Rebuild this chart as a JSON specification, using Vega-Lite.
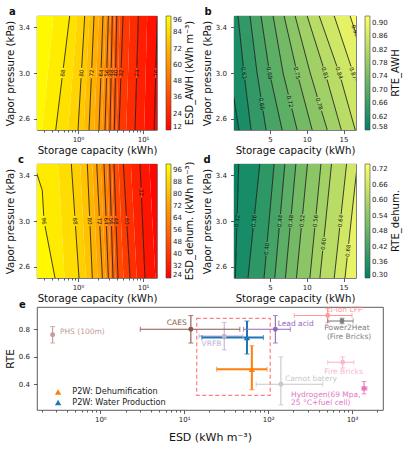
{
"$schema": "https://vega.github.io/schema/vega-lite/v6.json",
"padding": {"left": 4, "top": 6, "right": 0, "bottom": 0},
"config": {
 "font": "DejaVu Sans",
 "view": {"stroke": "#333", "strokeWidth": 0.8},
 "axis": {"domain": false, "grid": false, "labelFontSize": 7, "labelColor": "#222", "titleFontSize": 10.2, "titleFontWeight": "normal", "titleColor": "#111", "tickColor": "#333", "tickWidth": 0.8, "tickSize": 3.5},
 "axisY": {"labelPadding": 4, "titlePadding": 3},
 "axisX": {"labelPadding": 1.5, "titlePadding": 3},
 "legend": {"gradientLength": 114, "gradientThickness": 5, "labelFontSize": 7, "labelColor": "#222", "titleFontSize": 10, "titleFontWeight": "normal", "titleColor": "#111", "labelOffset": 3, "offset": 9, "titleOrient": "right", "titleAnchor": "middle", "titlePadding": 3, "gradientStrokeColor": "#444", "gradientStrokeWidth": 0.6, "labelOverlap": false, "padding": 0},
 "title": {"fontSize": 10, "fontWeight": "bold", "anchor": "start", "frame": "group", "baseline": "alphabetic", "color": "#111"}
},
"datasets": {
 "aBands": [
  {"v":94,"y":2.5,"xl":0.15,"xr":0.28},{"v":94,"y":3.5,"xl":0.15,"xr":0.42},
  {"v":90,"y":2.5,"xl":0.28,"xr":0.454},{"v":90,"y":3.5,"xl":0.42,"xr":0.745},
  {"v":86,"y":2.5,"xl":0.454,"xr":0.70},{"v":86,"y":3.5,"xl":0.745,"xr":0.98},
  {"v":82,"y":2.5,"xl":0.70,"xr":1.0},{"v":82,"y":3.5,"xl":0.98,"xr":1.268},
  {"v":78,"y":2.5,"xl":1.0,"xr":1.22},{"v":78,"y":3.5,"xl":1.268,"xr":1.50},
  {"v":74,"y":2.5,"xl":1.22,"xr":1.477},{"v":74,"y":3.5,"xl":1.50,"xr":1.762},
  {"v":70,"y":2.5,"xl":1.477,"xr":1.78},{"v":70,"y":3.5,"xl":1.762,"xr":2.08},
  {"v":66,"y":2.5,"xl":1.78,"xr":2.10},{"v":66,"y":3.5,"xl":2.08,"xr":2.42},
  {"v":62,"y":2.5,"xl":2.10,"xr":2.34},{"v":62,"y":3.5,"xl":2.42,"xr":2.66},
  {"v":58,"y":2.5,"xl":2.34,"xr":2.60},{"v":58,"y":3.5,"xl":2.66,"xr":2.93},
  {"v":54,"y":2.5,"xl":2.60,"xr":2.84},{"v":54,"y":3.5,"xl":2.93,"xr":3.15},
  {"v":50,"y":2.5,"xl":2.84,"xr":3.10},{"v":50,"y":3.5,"xl":3.15,"xr":3.37},
  {"v":46,"y":2.5,"xl":3.10,"xr":3.35},{"v":46,"y":3.5,"xl":3.37,"xr":3.65},
  {"v":42,"y":2.5,"xl":3.35,"xr":3.62},{"v":42,"y":3.5,"xl":3.65,"xr":3.94},
  {"v":38,"y":2.5,"xl":3.62,"xr":3.92},{"v":38,"y":3.5,"xl":3.94,"xr":4.40},
  {"v":34,"y":2.5,"xl":3.92,"xr":4.27},{"v":34,"y":3.5,"xl":4.40,"xr":4.92},
  {"v":30,"y":2.5,"xl":4.27,"xr":5.5},{"v":30,"y":3.5,"xl":4.92,"xr":6.3},
  {"v":26,"y":2.5,"xl":5.5,"xr":7.53},{"v":26,"y":3.5,"xl":6.3,"xr":8.47},
  {"v":22,"y":2.5,"xl":7.53,"xr":10.4},{"v":22,"y":3.5,"xl":8.47,"xr":11.6},
  {"v":18,"y":2.5,"xl":10.4,"xr":14.8},{"v":18,"y":3.5,"xl":11.6,"xr":16.6},
  {"v":14,"y":2.5,"xl":14.8,"xr":25},{"v":14,"y":3.5,"xl":16.6,"xr":25}
 ],
 "aLines": [
  {"lev":88,"seg":1,"y":2.5,"x":0.454},{"lev":88,"seg":1,"y":2.955,"x":0.569},{"lev":88,"seg":2,"y":3.045,"x":0.595},{"lev":88,"seg":2,"y":3.5,"x":0.745},
  {"lev":80,"seg":1,"y":2.5,"x":1.0},{"lev":80,"seg":1,"y":2.955,"x":1.114},{"lev":80,"seg":2,"y":3.045,"x":1.138},{"lev":80,"seg":2,"y":3.5,"x":1.268},
  {"lev":72,"seg":1,"y":2.5,"x":1.477},{"lev":72,"seg":1,"y":2.955,"x":1.600},{"lev":72,"seg":2,"y":3.045,"x":1.626},{"lev":72,"seg":2,"y":3.5,"x":1.762},
  {"lev":64,"seg":1,"y":2.5,"x":2.10},{"lev":64,"seg":1,"y":2.955,"x":2.240},{"lev":64,"seg":2,"y":3.045,"x":2.269},{"lev":64,"seg":2,"y":3.5,"x":2.42},
  {"lev":56,"seg":1,"y":2.5,"x":2.60},{"lev":56,"seg":1,"y":2.955,"x":2.745},{"lev":56,"seg":2,"y":3.045,"x":2.775},{"lev":56,"seg":2,"y":3.5,"x":2.93},
  {"lev":48,"seg":1,"y":2.5,"x":3.10},{"lev":48,"seg":1,"y":2.955,"x":3.220},{"lev":48,"seg":2,"y":3.045,"x":3.244},{"lev":48,"seg":2,"y":3.5,"x":3.37},
  {"lev":40,"seg":1,"y":2.5,"x":3.62},{"lev":40,"seg":1,"y":2.955,"x":3.762},{"lev":40,"seg":2,"y":3.045,"x":3.791},{"lev":40,"seg":2,"y":3.5,"x":3.94},
  {"lev":32,"seg":1,"y":2.5,"x":4.27},{"lev":32,"seg":1,"y":2.955,"x":4.554},{"lev":32,"seg":2,"y":3.045,"x":4.612},{"lev":32,"seg":2,"y":3.5,"x":4.92},
  {"lev":24,"seg":1,"y":2.5,"x":7.53},{"lev":24,"seg":1,"y":2.955,"x":7.944},{"lev":24,"seg":2,"y":3.045,"x":8.029},{"lev":24,"seg":2,"y":3.5,"x":8.47},
  {"lev":16,"seg":1,"y":2.5,"x":14.8},{"lev":16,"seg":1,"y":2.955,"x":15.59},{"lev":16,"seg":2,"y":3.045,"x":15.75},{"lev":16,"seg":2,"y":3.5,"x":16.6}
 ],
 "aLabels": [
  {"t":"88","x":0.582,"y":3.0},{"t":"80","x":1.126,"y":3.0},{"t":"72","x":1.613,"y":3.0},{"t":"64","x":2.254,"y":3.0},{"t":"56","x":2.76,"y":3.0},
  {"t":"48","x":3.232,"y":3.0},{"t":"40","x":3.777,"y":3.0},{"t":"32","x":4.583,"y":3.0},{"t":"24","x":7.986,"y":3.0},{"t":"16","x":15.67,"y":3.0}
 ],
 "bBands": [
  {"v":0.585,"y":2.5,"xl":-5,"xr":0.78},{"v":0.585,"y":3.0,"xl":-5,"xr":-0.45},{"v":0.585,"y":3.5,"xl":-5,"xr":-1.26},
  {"v":0.615,"y":2.5,"xl":0.78,"xr":2.42},{"v":0.615,"y":3.0,"xl":-0.45,"xr":1.46},{"v":0.615,"y":3.5,"xl":-1.26,"xr":0.65},
  {"v":0.645,"y":2.5,"xl":2.42,"xr":4.47},{"v":0.645,"y":3.0,"xl":1.46,"xr":3.24},{"v":0.645,"y":3.5,"xl":0.65,"xr":2.28},
  {"v":0.675,"y":2.5,"xl":4.47,"xr":6.65},{"v":0.675,"y":3.0,"xl":3.24,"xr":4.94},{"v":0.675,"y":3.5,"xl":2.28,"xr":3.78},
  {"v":0.705,"y":2.5,"xl":6.65,"xr":8.69},{"v":0.705,"y":3.0,"xl":4.94,"xr":6.78},{"v":0.705,"y":3.5,"xl":3.78,"xr":5.42},
  {"v":0.735,"y":2.5,"xl":8.69,"xr":10.74},{"v":0.735,"y":3.0,"xl":6.78,"xr":8.69},{"v":0.735,"y":3.5,"xl":5.42,"xr":6.92},
  {"v":0.765,"y":2.5,"xl":10.74,"xr":12.79},{"v":0.765,"y":3.0,"xl":8.69,"xr":10.47},{"v":0.765,"y":3.5,"xl":6.92,"xr":8.42},
  {"v":0.795,"y":2.5,"xl":12.79,"xr":14.7},{"v":0.795,"y":3.0,"xl":10.47,"xr":12.51},{"v":0.795,"y":3.5,"xl":8.42,"xr":10.06},
  {"v":0.825,"y":2.5,"xl":14.7,"xr":16.6},{"v":0.825,"y":3.0,"xl":12.51,"xr":14.42},{"v":0.825,"y":3.5,"xl":10.06,"xr":11.7},
  {"v":0.855,"y":2.5,"xl":16.6,"xr":19.5},{"v":0.855,"y":3.0,"xl":14.42,"xr":16.33},{"v":0.855,"y":3.5,"xl":11.7,"xr":13.74},
  {"v":0.885,"y":2.5,"xl":19.5,"xr":22},{"v":0.885,"y":3.0,"xl":16.33,"xr":18.5},{"v":0.885,"y":3.5,"xl":13.74,"xr":15.9},
  {"v":0.915,"y":2.5,"xl":22,"xr":30},{"v":0.915,"y":3.0,"xl":18.5,"xr":30},{"v":0.915,"y":3.5,"xl":15.9,"xr":30}
 ],
 "bLines": [
  {"lev":0.60,"seg":1,"y":2.5,"x":0.78},{"lev":0.60,"seg":1,"y":3.0,"x":-0.45},{"lev":0.60,"seg":1,"y":3.5,"x":-1.26},
  {"lev":0.63,"seg":1,"y":2.5,"x":2.42},{"lev":0.63,"seg":1,"y":2.943,"x":1.569},{"lev":0.63,"seg":2,"y":3.057,"x":1.368},{"lev":0.63,"seg":2,"y":3.5,"x":0.65},
  {"lev":0.66,"seg":1,"y":2.5,"x":4.47},{"lev":0.66,"seg":1,"y":2.67,"x":4.052},{"lev":0.66,"seg":2,"y":2.79,"x":3.757},{"lev":0.66,"seg":2,"y":3.0,"x":3.24},{"lev":0.66,"seg":2,"y":3.5,"x":2.28},
  {"lev":0.69,"seg":1,"y":2.5,"x":6.65},{"lev":0.69,"seg":1,"y":2.943,"x":5.135},{"lev":0.69,"seg":2,"y":3.057,"x":4.808},{"lev":0.69,"seg":2,"y":3.5,"x":3.78},
  {"lev":0.72,"seg":1,"y":2.5,"x":8.69},{"lev":0.72,"seg":1,"y":2.69,"x":7.964},{"lev":0.72,"seg":2,"y":2.81,"x":7.506},{"lev":0.72,"seg":2,"y":3.0,"x":6.78},{"lev":0.72,"seg":2,"y":3.5,"x":5.42},
  {"lev":0.75,"seg":1,"y":2.5,"x":10.74},{"lev":0.75,"seg":1,"y":2.943,"x":8.924},{"lev":0.75,"seg":2,"y":3.057,"x":8.488},{"lev":0.75,"seg":2,"y":3.5,"x":6.92},
  {"lev":0.78,"seg":1,"y":2.5,"x":12.79},{"lev":0.78,"seg":1,"y":2.67,"x":12.0},{"lev":0.78,"seg":2,"y":2.79,"x":11.44},{"lev":0.78,"seg":2,"y":3.0,"x":10.47},{"lev":0.78,"seg":2,"y":3.5,"x":8.42},
  {"lev":0.81,"seg":1,"y":2.5,"x":14.7},{"lev":0.81,"seg":1,"y":2.943,"x":12.76},{"lev":0.81,"seg":2,"y":3.057,"x":12.23},{"lev":0.81,"seg":2,"y":3.5,"x":10.06},
  {"lev":0.84,"seg":1,"y":2.5,"x":16.6},{"lev":0.84,"seg":1,"y":2.943,"x":14.67},{"lev":0.84,"seg":2,"y":3.057,"x":14.11},{"lev":0.84,"seg":2,"y":3.5,"x":11.7},
  {"lev":0.87,"seg":1,"y":2.5,"x":19.5},{"lev":0.87,"seg":1,"y":2.943,"x":16.69},{"lev":0.87,"seg":2,"y":3.057,"x":16.03},{"lev":0.87,"seg":2,"y":3.5,"x":13.74},
  {"lev":0.90,"seg":1,"y":2.5,"x":22},{"lev":0.90,"seg":1,"y":3.0,"x":18.5},{"lev":0.90,"seg":1,"y":3.5,"x":15.9}
 ],
 "bLabels": [
  {"t":"0.63","lev":0.63,"x":1.46,"y":3.0},{"t":"0.66","lev":0.66,"x":3.90,"y":2.73},{"t":"0.69","lev":0.69,"x":4.94,"y":3.0},
  {"t":"0.72","lev":0.72,"x":7.73,"y":2.75},{"t":"0.75","lev":0.75,"x":8.69,"y":3.0},{"t":"0.78","lev":0.78,"x":11.72,"y":2.73},
  {"t":"0.81","lev":0.81,"x":12.51,"y":3.0},{"t":"0.84","lev":0.84,"x":14.42,"y":3.0},{"t":"0.87","lev":0.87,"x":16.33,"y":3.0},
  {"t":"0.90","lev":0.90,"x":16.6,"y":3.37}
 ],
 "cBands": [
  {"v":98,"y":2.5,"xl":0.15,"xr":0.443},{"v":98,"y":3.0,"xl":0.15,"xr":0.30},{"v":98,"y":3.27,"xl":0.15,"xr":0.282},{"v":98,"y":3.4,"xl":0.15,"xr":0.237},{"v":98,"y":3.5,"xl":0.15,"xr":0.207},
  {"v":94,"y":2.5,"xl":0.443,"xr":0.62},{"v":94,"y":3.0,"xl":0.30,"xr":0.557},{"v":94,"y":3.27,"xl":0.282,"xr":0.525},{"v":94,"y":3.4,"xl":0.237,"xr":0.51},{"v":94,"y":3.5,"xl":0.207,"xr":0.50},
  {"v":90,"y":2.5,"xl":0.62,"xr":1.036},{"v":90,"y":3.5,"xl":0.50,"xr":0.789},
  {"v":86,"y":2.5,"xl":1.036,"xr":1.32},{"v":86,"y":3.5,"xl":0.789,"xr":1.08},
  {"v":82,"y":2.5,"xl":1.32,"xr":1.66},{"v":82,"y":3.5,"xl":1.08,"xr":1.39},
  {"v":78,"y":2.5,"xl":1.66,"xr":2.0},{"v":78,"y":3.5,"xl":1.39,"xr":1.66},
  {"v":74,"y":2.5,"xl":2.0,"xr":2.37},{"v":74,"y":3.5,"xl":1.66,"xr":1.94},
  {"v":70,"y":2.5,"xl":2.37,"xr":2.65},{"v":70,"y":3.5,"xl":1.94,"xr":2.24},
  {"v":66,"y":2.5,"xl":2.65,"xr":2.93},{"v":66,"y":3.5,"xl":2.24,"xr":2.51},
  {"v":62,"y":2.5,"xl":2.93,"xr":3.2},{"v":62,"y":3.5,"xl":2.51,"xr":2.8},
  {"v":58,"y":2.5,"xl":3.2,"xr":3.45},{"v":58,"y":3.5,"xl":2.8,"xr":3.07},
  {"v":54,"y":2.5,"xl":3.45,"xr":3.75},{"v":54,"y":3.5,"xl":3.07,"xr":3.32},
  {"v":50,"y":2.5,"xl":3.75,"xr":4.12},{"v":50,"y":3.5,"xl":3.32,"xr":3.58},
  {"v":46,"y":2.5,"xl":4.12,"xr":5.0},{"v":46,"y":3.5,"xl":3.58,"xr":4.2},
  {"v":42,"y":2.5,"xl":5.0,"xr":6.31},{"v":42,"y":3.5,"xl":4.2,"xr":4.98},
  {"v":38,"y":2.5,"xl":6.31,"xr":8.0},{"v":38,"y":3.5,"xl":4.98,"xr":6.5},
  {"v":34,"y":2.5,"xl":8.0,"xr":10.7},{"v":34,"y":3.5,"xl":6.5,"xr":8.99},
  {"v":30,"y":2.5,"xl":10.7,"xr":15.5},{"v":30,"y":3.5,"xl":8.99,"xr":12.5},
  {"v":26,"y":2.5,"xl":15.5,"xr":25},{"v":26,"y":3.5,"xl":12.5,"xr":25}
 ],
 "cLines": [
  {"lev":96,"seg":1,"y":2.5,"x":0.443},{"lev":96,"seg":1,"y":2.955,"x":0.311},{"lev":96,"seg":2,"y":3.045,"x":0.297},{"lev":96,"seg":2,"y":3.27,"x":0.282},{"lev":96,"seg":2,"y":3.4,"x":0.237},{"lev":96,"seg":2,"y":3.5,"x":0.207},
  {"lev":88,"seg":1,"y":2.5,"x":1.036},{"lev":88,"seg":1,"y":2.955,"x":0.915},{"lev":88,"seg":2,"y":3.045,"x":0.893},{"lev":88,"seg":2,"y":3.5,"x":0.789},
  {"lev":80,"seg":1,"y":2.5,"x":1.66},{"lev":80,"seg":1,"y":2.955,"x":1.531},{"lev":80,"seg":2,"y":3.045,"x":1.507},{"lev":80,"seg":2,"y":3.5,"x":1.39},
  {"lev":72,"seg":1,"y":2.5,"x":2.37},{"lev":72,"seg":1,"y":2.955,"x":2.164},{"lev":72,"seg":2,"y":3.045,"x":2.125},{"lev":72,"seg":2,"y":3.5,"x":1.94},
  {"lev":64,"seg":1,"y":2.5,"x":2.93},{"lev":64,"seg":1,"y":2.955,"x":2.731},{"lev":64,"seg":2,"y":3.045,"x":2.693},{"lev":64,"seg":2,"y":3.5,"x":2.51},
  {"lev":56,"seg":1,"y":2.5,"x":3.45},{"lev":56,"seg":1,"y":2.955,"x":3.272},{"lev":56,"seg":2,"y":3.045,"x":3.237},{"lev":56,"seg":2,"y":3.5,"x":3.07},
  {"lev":48,"seg":1,"y":2.5,"x":4.12},{"lev":48,"seg":1,"y":2.955,"x":3.865},{"lev":48,"seg":2,"y":3.045,"x":3.816},{"lev":48,"seg":2,"y":3.5,"x":3.58},
  {"lev":40,"seg":1,"y":2.5,"x":6.31},{"lev":40,"seg":1,"y":2.955,"x":5.666},{"lev":40,"seg":2,"y":3.045,"x":5.546},{"lev":40,"seg":2,"y":3.5,"x":4.98},
  {"lev":32,"seg":1,"y":2.5,"x":10.7},{"lev":32,"seg":1,"y":3.205,"x":9.464},{"lev":32,"seg":2,"y":3.295,"x":9.316},{"lev":32,"seg":2,"y":3.5,"x":8.99}
 ],
 "cLabels": [
  {"t":"96","x":0.30,"y":3.0},{"t":"88","x":0.904,"y":3.0},{"t":"80","x":1.519,"y":3.0},{"t":"72","x":2.144,"y":3.0},{"t":"64","x":2.712,"y":3.0},
  {"t":"56","x":3.254,"y":3.0},{"t":"48","x":3.840,"y":3.0},{"t":"40","x":5.606,"y":3.0},{"t":"32","x":9.39,"y":3.25}
 ],
 "dBands": [
  {"v":0.31,"y":2.5,"xl":-3,"xr":0.28},{"v":0.31,"y":3.5,"xl":-3,"xr":0.74},
  {"v":0.34,"y":2.5,"xl":0.28,"xr":2.01},{"v":0.34,"y":3.5,"xl":0.74,"xr":3.61},
  {"v":0.38,"y":2.5,"xl":2.01,"xr":4.19},{"v":0.38,"y":3.5,"xl":3.61,"xr":5.56},
  {"v":0.42,"y":2.5,"xl":4.19,"xr":5.65},{"v":0.42,"y":3.5,"xl":5.56,"xr":7.02},
  {"v":0.46,"y":2.5,"xl":5.65,"xr":7.10},{"v":0.46,"y":3.5,"xl":7.02,"xr":8.52},
  {"v":0.50,"y":2.5,"xl":7.10,"xr":8.60},{"v":0.50,"y":3.5,"xl":8.52,"xr":10.10},
  {"v":0.54,"y":2.5,"xl":8.60,"xr":10.43},{"v":0.54,"y":3.5,"xl":10.10,"xr":11.93},
  {"v":0.58,"y":2.5,"xl":10.43,"xr":11.79},{"v":0.58,"y":3.5,"xl":11.93,"xr":13.37},
  {"v":0.62,"y":2.5,"xl":11.79,"xr":13.74},{"v":0.62,"y":3.5,"xl":13.37,"xr":15.42},
  {"v":0.66,"y":2.5,"xl":13.74,"xr":15.2},{"v":0.66,"y":3.5,"xl":15.42,"xr":16.88},
  {"v":0.70,"y":2.5,"xl":15.2,"xr":18.0},{"v":0.70,"y":3.5,"xl":16.88,"xr":19.6},
  {"v":0.73,"y":2.5,"xl":18.0,"xr":30},{"v":0.73,"y":3.5,"xl":19.6,"xr":30}
 ],
 "dLines": [
  {"lev":0.32,"seg":1,"y":2.5,"x":0.28},{"lev":0.32,"seg":1,"y":2.94,"x":0.48},{"lev":0.32,"seg":2,"y":3.06,"x":0.54},{"lev":0.32,"seg":2,"y":3.5,"x":0.74},
  {"lev":0.36,"seg":1,"y":2.5,"x":2.01},{"lev":0.36,"seg":1,"y":2.94,"x":2.71},{"lev":0.36,"seg":2,"y":3.06,"x":2.91},{"lev":0.36,"seg":2,"y":3.5,"x":3.61},
  {"lev":0.40,"seg":1,"y":2.5,"x":4.19},{"lev":0.40,"seg":1,"y":2.696,"x":4.46},{"lev":0.40,"seg":2,"y":2.816,"x":4.62},{"lev":0.40,"seg":2,"y":3.5,"x":5.56},
  {"lev":0.44,"seg":1,"y":2.5,"x":5.65},{"lev":0.44,"seg":1,"y":2.94,"x":6.25},{"lev":0.44,"seg":2,"y":3.06,"x":6.42},{"lev":0.44,"seg":2,"y":3.5,"x":7.02},
  {"lev":0.48,"seg":1,"y":2.5,"x":7.10},{"lev":0.48,"seg":1,"y":2.94,"x":7.72},{"lev":0.48,"seg":2,"y":3.06,"x":7.90},{"lev":0.48,"seg":2,"y":3.5,"x":8.52},
  {"lev":0.52,"seg":1,"y":2.5,"x":8.60},{"lev":0.52,"seg":1,"y":2.94,"x":9.26},{"lev":0.52,"seg":2,"y":3.06,"x":9.44},{"lev":0.52,"seg":2,"y":3.5,"x":10.10},
  {"lev":0.56,"seg":1,"y":2.5,"x":10.43},{"lev":0.56,"seg":1,"y":2.94,"x":11.09},{"lev":0.56,"seg":2,"y":3.06,"x":11.27},{"lev":0.56,"seg":2,"y":3.5,"x":11.93},
  {"lev":0.60,"seg":1,"y":2.5,"x":11.79},{"lev":0.60,"seg":1,"y":2.74,"x":12.17},{"lev":0.60,"seg":2,"y":2.86,"x":12.36},{"lev":0.60,"seg":2,"y":3.5,"x":13.37},
  {"lev":0.64,"seg":1,"y":2.5,"x":13.74},{"lev":0.64,"seg":1,"y":2.94,"x":14.48},{"lev":0.64,"seg":2,"y":3.06,"x":14.68},{"lev":0.64,"seg":2,"y":3.5,"x":15.42},
  {"lev":0.68,"seg":1,"y":2.5,"x":15.2},{"lev":0.68,"seg":1,"y":2.68,"x":15.50},{"lev":0.68,"seg":2,"y":2.80,"x":15.70},{"lev":0.68,"seg":2,"y":3.5,"x":16.88}
 ],
 "dLabels": [
  {"t":"0.32","x":0.51,"y":3.0},{"t":"0.36","x":2.81,"y":3.0},{"t":"0.40","x":4.54,"y":2.756},{"t":"0.44","x":6.33,"y":3.0},{"t":"0.48","x":7.81,"y":3.0},
  {"t":"0.52","x":9.35,"y":3.0},{"t":"0.56","x":11.18,"y":3.0},{"t":"0.60","x":12.26,"y":2.80},{"t":"0.64","x":14.58,"y":3.0},{"t":"0.68","x":15.6,"y":2.74}
 ],
 "box": [{"x1":14.1,"x2":106,"y1":0.32,"y2":0.88}],
 "tech": [
  {"name":"PHS (100m)","x":0.27,"y":0.76,"xlo":0.27,"xhi":0.27,"ylo":0.70,"yhi":0.82},
  {"name":"CAES","x":12,"y":0.80,"xlo":3.0,"xhi":46,"ylo":0.70,"yhi":0.90},
  {"name":"VRFB","x":30,"y":0.75,"xlo":15,"xhi":50,"ylo":0.65,"yhi":0.85},
  {"name":"Lead acid","x":122,"y":0.80,"xlo":51,"xhi":184,"ylo":0.70,"yhi":0.90},
  {"name":"Li-ion LFP","x":513,"y":0.90,"xlo":205,"xhi":1000,"ylo":0.85,"yhi":0.95},
  {"name":"Power2Heat","x":760,"y":0.86,"xlo":513,"xhi":1030,"ylo":0.84,"yhi":0.88},
  {"name":"Fire Bricks","x":774,"y":0.56,"xlo":513,"xhi":1050,"ylo":0.52,"yhi":0.60},
  {"name":"Carnot batery","x":142,"y":0.40,"xlo":72,"xhi":448,"ylo":0.25,"yhi":0.60},
  {"name":"Hydrogen","x":1390,"y":0.37,"xlo":1320,"xhi":1500,"ylo":0.33,"yhi":0.42},
  {"name":"P2W: Dehumification","x":64,"y":0.51,"xlo":24.4,"xhi":97,"ylo":0.36,"yhi":0.68},
  {"name":"P2W: Water Production","x":56,"y":0.74,"xlo":16.2,"xhi":88,"ylo":0.62,"yhi":0.86}
 ],
 "techText": [
  {"name":"PHS (100m)","t":"PHS (100m)","x":0.33,"y":0.78},
  {"name":"CAES","t":"CAES","x":6.2,"y":0.844},
  {"name":"VRFB","t":"VRFB","x":16.1,"y":0.691},
  {"name":"Lead acid","t":"Lead acid","x":130,"y":0.841},
  {"name":"Li-ion LFP","t":"Li-ion LFP","x":499,"y":0.94},
  {"name":"Power2Heat","t":"Power2Heat","x":468,"y":0.812},
  {"name":"Power2Heat","t":"(Fire Bricks)","x":502,"y":0.746},
  {"name":"Fire Bricks","t":"Fire Bricks","x":468,"y":0.49},
  {"name":"Carnot batery","t":"Carnot batery","x":159,"y":0.436},
  {"name":"Hydrogen","t":"Hydrogen(69 Mpa,","x":187.5,"y":0.322},
  {"name":"Hydrogen","t":"25 °C+fuel cell)","x":187.5,"y":0.261}
 ]
},
"resolve": {"scale": {"color": "independent", "fill": "independent", "angle": "independent"}, "legend": {"color": "independent", "fill": "independent"}},
"spacing": -5,
"vconcat": [
 {
  "spacing": -2,
  "resolve": {"scale": {"color": "independent", "fill": "independent", "angle": "independent"}, "legend": {"color": "independent"}},
  "vconcat": [
   {
    "spacing": 4,
    "resolve": {"scale": {"color": "independent", "fill": "independent", "angle": "independent"}, "legend": {"color": "independent"}},
    "hconcat": [
     {
      "width": 120, "height": 114,
      "title": {"text": "a", "dx": -28, "offset": -1},
      "layer": [
       {"data": {"name": "aBands"}, "mark": {"type": "area", "orient": "horizontal", "clip": true},
        "encoding": {
         "y": {"field": "y", "type": "quantitative", "scale": {"domain": [2.5, 3.5], "nice": false, "zero": false}, "axis": {"title": "Vapor pressure (kPa)", "values": [2.6, 2.8, 3.0, 3.2, 3.4], "format": ".1f"}},
         "x": {"field": "xl", "type": "quantitative", "stack": null, "scale": {"type": "log", "domain": [0.234, 16.4], "nice": false}, "axis": {"title": "Storage capacity (kWh)", "values": [0.3,0.4,0.5,0.6,0.7,0.8,0.9,1,2,3,4,5,6,7,8,9,10], "labelExpr": "datum.value == 1 ? '10⁰' : datum.value == 10 ? '10¹' : ''", "labelOverlap": false, "tickSize": {"condition": {"test": "datum.value == 1 || datum.value == 10", "value": 3.5}, "value": 2}}},
         "x2": {"field": "xr"},
         "detail": {"field": "v", "type": "nominal"},
         "color": {"field": "v", "type": "quantitative", "scale": {"domain": [12, 96], "range": ["#ff0000", "#ffff00"], "interpolate": "rgb"}, "legend": {"type": "gradient", "direction": "vertical", "title": "ESD_AWH (kWh m⁻³)", "values": [12, 24, 36, 48, 60, 72, 84, 96], "encode": {"title": {"update": {"angle": {"value": 270}, "baseline": {"value": "top"}}}}}}
        }},
       {"data": {"name": "aLines"}, "mark": {"type": "line", "color": "#111", "strokeWidth": 0.8, "clip": true},
        "encoding": {"x": {"field": "x", "type": "quantitative"}, "y": {"field": "y", "type": "quantitative"}, "detail": [{"field": "lev", "type": "nominal"}, {"field": "seg", "type": "nominal"}], "order": {"field": "y", "type": "quantitative"}}},
       {"data": {"name": "aLabels"}, "mark": {"type": "text", "fontSize": 5.5, "angle": -84, "color": "#111", "clip": true},
        "encoding": {"x": {"field": "x", "type": "quantitative"}, "y": {"field": "y", "type": "quantitative"}, "text": {"field": "t"}}}
      ]
     },
     {
      "width": 122, "height": 114,
      "title": {"text": "b", "dx": -29.5, "offset": -1},
      "layer": [
       {"data": {"name": "bBands"}, "mark": {"type": "area", "orient": "horizontal", "clip": true},
        "encoding": {
         "y": {"field": "y", "type": "quantitative", "scale": {"domain": [2.5, 3.5], "nice": false, "zero": false}, "axis": {"title": "Vapor pressure (kPa)", "values": [2.6, 2.8, 3.0, 3.2, 3.4], "format": ".1f"}},
         "x": {"field": "xl", "type": "quantitative", "stack": null, "scale": {"domain": [0.1, 16.7], "nice": false, "zero": false}, "axis": {"title": "Storage capacity (kWh)", "values": [5, 10, 15]}},
         "x2": {"field": "xr"},
         "detail": {"field": "v", "type": "nominal"},
         "color": {"field": "v", "type": "quantitative", "scale": {"domain": [0.58, 0.92], "range": ["#008066", "#ffff66"], "interpolate": "rgb"}, "legend": {"type": "gradient", "direction": "vertical", "title": "RTE_AWH", "format": ".2f", "values": [0.58, 0.62, 0.66, 0.70, 0.74, 0.78, 0.82, 0.86, 0.90], "encode": {"title": {"update": {"angle": {"value": 270}, "baseline": {"value": "top"}}}}}}
        }},
       {"data": {"name": "bLines"}, "mark": {"type": "line", "color": "#111", "strokeWidth": 0.8, "clip": true},
        "encoding": {"x": {"field": "x", "type": "quantitative"}, "y": {"field": "y", "type": "quantitative"}, "detail": [{"field": "lev", "type": "nominal"}, {"field": "seg", "type": "nominal"}], "order": {"field": "y", "type": "quantitative"}}},
       {"data": {"name": "bLabels"}, "mark": {"type": "text", "fontSize": 5.5, "color": "#111", "clip": true},
        "encoding": {"x": {"field": "x", "type": "quantitative"}, "y": {"field": "y", "type": "quantitative"}, "text": {"field": "t"}, "angle": {"field": "lev", "type": "quantitative", "scale": {"domain": [0.63, 0.87], "range": [83, 70]}}}}
      ]
     }
    ]
   },
   {
    "spacing": 4,
    "resolve": {"scale": {"color": "independent", "fill": "independent", "angle": "independent"}, "legend": {"color": "independent"}},
    "hconcat": [
     {
      "width": 120, "height": 114,
      "title": {"text": "c", "dx": -19, "offset": -1},
      "layer": [
       {"data": {"name": "cBands"}, "mark": {"type": "area", "orient": "horizontal", "clip": true},
        "encoding": {
         "y": {"field": "y", "type": "quantitative", "scale": {"domain": [2.5, 3.5], "nice": false, "zero": false}, "axis": {"title": "Vapor pressure (kPa)", "values": [2.6, 2.8, 3.0, 3.2, 3.4], "format": ".1f"}},
         "x": {"field": "xl", "type": "quantitative", "stack": null, "scale": {"type": "log", "domain": [0.234, 16.4], "nice": false}, "axis": {"title": "Storage capacity (kWh)", "values": [0.3,0.4,0.5,0.6,0.7,0.8,0.9,1,2,3,4,5,6,7,8,9,10], "labelExpr": "datum.value == 1 ? '10⁰' : datum.value == 10 ? '10¹' : ''", "labelOverlap": false, "tickSize": {"condition": {"test": "datum.value == 1 || datum.value == 10", "value": 3.5}, "value": 2}}},
         "x2": {"field": "xr"},
         "detail": {"field": "v", "type": "nominal"},
         "color": {"field": "v", "type": "quantitative", "scale": {"domain": [24, 100], "range": ["#ff0000", "#ffff00"], "interpolate": "rgb"}, "legend": {"type": "gradient", "direction": "vertical", "title": "ESD_dehum. (kWh m⁻³)", "values": [24, 32, 40, 48, 56, 64, 72, 80, 88, 96], "encode": {"title": {"update": {"angle": {"value": 270}, "baseline": {"value": "top"}}}}}}
        }},
       {"data": {"name": "cLines"}, "mark": {"type": "line", "color": "#111", "strokeWidth": 0.8, "clip": true},
        "encoding": {"x": {"field": "x", "type": "quantitative"}, "y": {"field": "y", "type": "quantitative"}, "detail": [{"field": "lev", "type": "nominal"}, {"field": "seg", "type": "nominal"}], "order": {"field": "y", "type": "quantitative"}}},
       {"data": {"name": "cLabels"}, "mark": {"type": "text", "fontSize": 5.5, "angle": 85, "color": "#111", "clip": true},
        "encoding": {"x": {"field": "x", "type": "quantitative"}, "y": {"field": "y", "type": "quantitative"}, "text": {"field": "t"}}}
      ]
     },
     {
      "width": 122, "height": 114,
      "title": {"text": "d", "dx": -30.5, "offset": -1},
      "layer": [
       {"data": {"name": "dBands"}, "mark": {"type": "area", "orient": "horizontal", "clip": true},
        "encoding": {
         "y": {"field": "y", "type": "quantitative", "scale": {"domain": [2.5, 3.5], "nice": false, "zero": false}, "axis": {"title": "Vapor pressure (kPa)", "values": [2.6, 2.8, 3.0, 3.2, 3.4], "format": ".1f"}},
         "x": {"field": "xl", "type": "quantitative", "stack": null, "scale": {"domain": [0.1, 16.7], "nice": false, "zero": false}, "axis": {"title": "Storage capacity (kWh)", "values": [5, 10, 15]}},
         "x2": {"field": "xr"},
         "detail": {"field": "v", "type": "nominal"},
         "color": {"field": "v", "type": "quantitative", "scale": {"domain": [0.30, 0.74], "range": ["#008066", "#ffff66"], "interpolate": "rgb"}, "legend": {"type": "gradient", "direction": "vertical", "title": "RTE_dehum.", "format": ".2f", "values": [0.30, 0.36, 0.42, 0.48, 0.54, 0.60, 0.66, 0.72], "encode": {"title": {"update": {"angle": {"value": 270}, "baseline": {"value": "top"}}}}}}
        }},
       {"data": {"name": "dLines"}, "mark": {"type": "line", "color": "#111", "strokeWidth": 0.8, "clip": true},
        "encoding": {"x": {"field": "x", "type": "quantitative"}, "y": {"field": "y", "type": "quantitative"}, "detail": [{"field": "lev", "type": "nominal"}, {"field": "seg", "type": "nominal"}], "order": {"field": "y", "type": "quantitative"}}},
       {"data": {"name": "dLabels"}, "mark": {"type": "text", "fontSize": 5.5, "angle": -84, "color": "#111", "clip": true},
        "encoding": {"x": {"field": "x", "type": "quantitative"}, "y": {"field": "y", "type": "quantitative"}, "text": {"field": "t"}}}
      ]
     }
    ]
   }
  ]
 },
 {
  "width": 346, "height": 103,
  "title": {"text": "e", "dx": -18, "offset": -4},
  "layer": [
   {"data": {"name": "box"}, "mark": {"type": "rect", "filled": false, "stroke": "#ff7f7f", "strokeDash": [4, 2.5], "strokeWidth": 1.2},
    "encoding": {
     "x": {"field": "x1", "type": "quantitative", "scale": {"type": "log", "domain": [0.176, 2340], "nice": false}, "axis": {"title": "ESD (kWh m⁻³)", "titleFontSize": 11, "titlePadding": 9, "values": [0.2,0.3,0.4,0.5,0.6,0.7,0.8,0.9,1,2,3,4,5,6,7,8,9,10,20,30,40,50,60,70,80,90,100,200,300,400,500,600,700,800,900,1000,2000], "labelExpr": "datum.value == 1 ? '10⁰' : datum.value == 10 ? '10¹' : datum.value == 100 ? '10²' : datum.value == 1000 ? '10³' : ''", "labelOverlap": false, "tickSize": {"condition": {"test": "datum.value == 1 || datum.value == 10 || datum.value == 100 || datum.value == 1000", "value": 3.5}, "value": 2}}},
     "x2": {"field": "x2"},
     "y": {"field": "y1", "type": "quantitative", "scale": {"domain": [0.213, 0.962], "nice": false, "zero": false}, "axis": {"title": "RTE", "titleFontSize": 10.5, "values": [0.4, 0.6, 0.8], "format": ".1f"}},
     "y2": {"field": "y2"}
    }},
   {"data": {"name": "tech"}, "mark": {"type": "rule"},
    "encoding": {
     "x": {"field": "x", "type": "quantitative"}, "y": {"field": "ylo", "type": "quantitative"}, "y2": {"field": "yhi"},
     "color": {"field": "name", "type": "nominal", "scale": {"domain": ["PHS (100m)","CAES","VRFB","Lead acid","Li-ion LFP","Power2Heat","Fire Bricks","Carnot batery","Hydrogen","P2W: Dehumification","P2W: Water Production"], "range": ["#c49c94","#8c564b","#c5b0d5","#9467bd","#ff9896","#7f7f7f","#f7b6d2","#c7c7c7","#e377c2","#ff7f0e","#1f77b4"]}, "legend": null},
     "strokeWidth": {"condition": {"test": "indexof(datum.name, 'P2W') == 0", "value": 2}, "value": 1.1}
    }},
   {"data": {"name": "tech"}, "mark": {"type": "rule"},
    "encoding": {
     "x": {"field": "xlo", "type": "quantitative"}, "x2": {"field": "xhi"}, "y": {"field": "y", "type": "quantitative"},
     "color": {"field": "name", "type": "nominal", "scale": {"domain": ["PHS (100m)","CAES","VRFB","Lead acid","Li-ion LFP","Power2Heat","Fire Bricks","Carnot batery","Hydrogen","P2W: Dehumification","P2W: Water Production"], "range": ["#c49c94","#8c564b","#c5b0d5","#9467bd","#ff9896","#7f7f7f","#f7b6d2","#c7c7c7","#e377c2","#ff7f0e","#1f77b4"]}, "legend": null},
     "strokeWidth": {"condition": {"test": "indexof(datum.name, 'P2W') == 0", "value": 2}, "value": 1.1}
    }},
   {"data": {"name": "tech"}, "transform": [{"fold": ["ylo", "yhi"], "as": ["k", "cy"]}], "mark": {"type": "tick", "orient": "horizontal", "size": 5, "thickness": 1.1},
    "encoding": {
     "x": {"field": "x", "type": "quantitative"}, "y": {"field": "cy", "type": "quantitative"},
     "color": {"field": "name", "type": "nominal", "scale": {"domain": ["PHS (100m)","CAES","VRFB","Lead acid","Li-ion LFP","Power2Heat","Fire Bricks","Carnot batery","Hydrogen","P2W: Dehumification","P2W: Water Production"], "range": ["#c49c94","#8c564b","#c5b0d5","#9467bd","#ff9896","#7f7f7f","#f7b6d2","#c7c7c7","#e377c2","#ff7f0e","#1f77b4"]}, "legend": null}
    }},
   {"data": {"name": "tech"}, "transform": [{"fold": ["xlo", "xhi"], "as": ["k", "cx"]}], "mark": {"type": "tick", "orient": "vertical", "size": 5, "thickness": 1.1},
    "encoding": {
     "x": {"field": "cx", "type": "quantitative"}, "y": {"field": "y", "type": "quantitative"},
     "color": {"field": "name", "type": "nominal", "scale": {"domain": ["PHS (100m)","CAES","VRFB","Lead acid","Li-ion LFP","Power2Heat","Fire Bricks","Carnot batery","Hydrogen","P2W: Dehumification","P2W: Water Production"], "range": ["#c49c94","#8c564b","#c5b0d5","#9467bd","#ff9896","#7f7f7f","#f7b6d2","#c7c7c7","#e377c2","#ff7f0e","#1f77b4"]}, "legend": null}
    }},
   {"data": {"name": "tech"}, "transform": [{"filter": "indexof(datum.name, 'P2W') != 0"}], "mark": {"type": "point", "filled": true, "size": 24, "opacity": 1},
    "encoding": {
     "x": {"field": "x", "type": "quantitative"}, "y": {"field": "y", "type": "quantitative"},
     "color": {"field": "name", "type": "nominal", "scale": {"domain": ["PHS (100m)","CAES","VRFB","Lead acid","Li-ion LFP","Power2Heat","Fire Bricks","Carnot batery","Hydrogen","P2W: Dehumification","P2W: Water Production"], "range": ["#c49c94","#8c564b","#c5b0d5","#9467bd","#ff9896","#7f7f7f","#f7b6d2","#c7c7c7","#e377c2","#ff7f0e","#1f77b4"]}, "legend": null}
    }},
   {"data": {"name": "tech"}, "transform": [{"filter": "indexof(datum.name, 'P2W') == 0"}], "mark": {"type": "point", "filled": true, "shape": "triangle-up", "size": 40, "opacity": 1},
    "encoding": {
     "x": {"field": "x", "type": "quantitative"}, "y": {"field": "y", "type": "quantitative"},
     "fill": {"field": "name", "type": "nominal", "scale": {"domain": ["P2W: Dehumification", "P2W: Water Production"], "range": ["#ff7f0e", "#1f77b4"]},
      "legend": {"values": ["P2W: Dehumification", "P2W: Water Production"], "title": null, "orient": "none", "legendX": 17, "legendY": 81, "offset": 0, "direction": "vertical", "symbolType": "triangle-up", "symbolSize": 40, "symbolStrokeWidth": 0, "labelFontSize": 8.2, "rowPadding": 1.5, "labelOffset": 10, "padding": 0}}
    }},
   {"data": {"name": "techText"}, "mark": {"type": "text", "align": "left", "baseline": "middle", "fontSize": 7.5},
    "encoding": {
     "x": {"field": "x", "type": "quantitative"}, "y": {"field": "y", "type": "quantitative"}, "text": {"field": "t"},
     "color": {"field": "name", "type": "nominal", "scale": {"domain": ["PHS (100m)","CAES","VRFB","Lead acid","Li-ion LFP","Power2Heat","Fire Bricks","Carnot batery","Hydrogen","P2W: Dehumification","P2W: Water Production"], "range": ["#c49c94","#8c564b","#c5b0d5","#9467bd","#ff9896","#7f7f7f","#f7b6d2","#c7c7c7","#e377c2","#ff7f0e","#1f77b4"]}, "legend": null}
    }}
  ]
 }
]
}
